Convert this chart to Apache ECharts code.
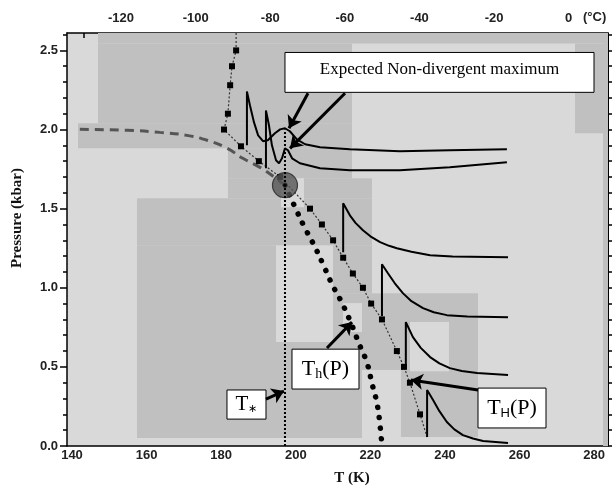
<!DOCTYPE html>
<html>
<head>
<meta charset="utf-8">
<script src="https://cdn.jsdelivr.net/npm/echarts@6/dist/echarts.min.js"></script>
<style>
  html, body { margin: 0; padding: 0; background: #fff; }
  #chart { width: 613px; height: 487px; }
</style>
</head>
<body>
<div id="chart"></div>
<script>
// axis ticks
var T_LABELS = [140, 160, 180, 200, 220, 240, 260, 280]
var C_LABELS = [-120, -100, -80, -60, -40, -20, 0]
var C_TICKS = [-130, -120, -110, -100, -90, -80, -70, -60, -50, -40, -30, -20, -10, 0, 10]
var P_LABELS = [0, 0.5, 1.0, 1.5, 2.0, 2.5]
var P_MINOR = [0, 0.1, 0.2, 0.3, 0.4, 0.5, 0.6, 0.7, 0.8, 0.9, 1.0, 1.1, 1.2, 1.3, 1.4, 1.5, 1.6, 1.7, 1.8, 1.9, 2.0, 2.1, 2.2, 2.3, 2.4, 2.5, 2.6]

// T_H(P): dotted line with square markers
var TH_T = [184.0, 184.0, 182.9, 182.4, 181.8, 180.75, 185.3, 190.1, 195.8, 203.8, 207.0, 210.0, 212.7, 215.3, 218.0, 220.2, 223.1, 227.1, 229.0, 230.6, 233.3, 235.2]
var TH_P = [2.61, 2.50, 2.40, 2.28, 2.10, 2.00, 1.894, 1.80, 1.70, 1.50, 1.40, 1.30, 1.19, 1.09, 1.00, 0.90, 0.80, 0.60, 0.50, 0.40, 0.20, 0.057]

// T_h(P): big dots
var TLOW_T = [197.1, 199.8, 202.2, 204.9, 207.3, 209.7, 212.4, 214.8, 216.9, 219.1, 220.4, 221.8, 222.6, 223.1]
var TLOW_P = [1.648, 1.509, 1.389, 1.269, 1.149, 1.023, 0.903, 0.777, 0.650, 0.524, 0.398, 0.265, 0.126, 0.0]

// grey dashed curve
var DASH_T = [142.1, 154.7, 163.6, 170.8, 176.2, 181.6, 185.8, 190.4, 193.9, 197.1]
var DASH_P = [2.001, 1.995, 1.982, 1.963, 1.932, 1.881, 1.818, 1.761, 1.705, 1.648]

// T* and the critical point
var TSTAR = 197.1
var TSTAR_TOP = 2.0
var CP = [197.1, 1.648]

// response curves
var RA_T = [186.9, 186.9, 187.7, 188.8, 189.9, 191.2, 192.5, 194.4, 195.8, 197.1, 198.4, 200.3, 202.5, 206.5, 214.5, 227.9, 241.3, 256.6]
var RA_P = [1.90, 2.241, 2.153, 2.045, 1.963, 1.926, 1.932, 1.976, 2.001, 2.008, 1.989, 1.938, 1.907, 1.888, 1.875, 1.862, 1.869, 1.875]
var RB_T = [192.0, 192.0, 192.8, 193.6, 194.7, 195.5, 196.3, 197.1, 197.9, 199.0, 201.1, 206.5, 214.5, 227.9, 241.3, 256.6]
var RB_P = [1.755, 2.121, 2.027, 1.900, 1.806, 1.787, 1.818, 1.881, 1.869, 1.818, 1.787, 1.755, 1.742, 1.742, 1.761, 1.793]
var RC_T = [212.7, 212.7, 214.5, 216.0, 218.0, 220.0, 222.6, 225.0, 227.1, 231.0, 236.0, 242.0, 256.9]
var RC_P = [1.225, 1.534, 1.458, 1.41, 1.364, 1.325, 1.288, 1.265, 1.25, 1.228, 1.206, 1.198, 1.193]
var RD_T = [223.1, 223.1, 224.7, 226.5, 228.7, 231.0, 234.1, 237.0, 240.5, 246.0, 256.9]
var RD_P = [0.821, 1.149, 1.092, 1.03, 0.966, 0.915, 0.871, 0.845, 0.827, 0.818, 0.814]
var RE_T = [229.5, 229.5, 231.4, 233.5, 236.0, 238.5, 241.3, 244.5, 248.6, 256.9]
var RE_P = [0.492, 0.783, 0.688, 0.62, 0.562, 0.522, 0.492, 0.474, 0.461, 0.448]
var RF_T = [235.2, 235.2, 236.8, 238.5, 240.5, 242.5, 244.8, 247.5, 250.2, 256.9]
var RF_P = [0.057, 0.354, 0.29, 0.22, 0.152, 0.105, 0.069, 0.047, 0.032, 0.019]

// background patches [T0, T1, P0, P1, dark]
var PATCHES = [
  [146.97, 283.7, 2.544, 2.61, 1],
  [146.97, 215.07, 2.039, 2.544, 1],
  [274.85, 283.7, 1.976, 2.544, 1],
  [141.61, 215.07, 1.881, 2.039, 1],
  [181.82, 215.07, 1.692, 1.881, 1],
  [181.82, 220.43, 1.566, 1.692, 1],
  [157.43, 220.43, 1.269, 1.566, 1],
  [157.43, 194.69, 0.051, 1.269, 1],
  [209.97, 220.43, 0.966, 1.269, 1],
  [209.97, 248.85, 0.657, 0.966, 1],
  [194.69, 248.85, 0.480, 0.657, 1],
  [194.69, 217.75, 0.051, 0.480, 1],
  [228.20, 248.85, 0.057, 0.480, 1],
  [282.36, 283.7, 0, 2.61, 1],
  [196.03, 202.20, 1.509, 1.692, 0],
  [212.65, 217.75, 0.720, 0.903, 0],
  [230.62, 241.07, 0.473, 0.783, 0]
]

var XMIN = 138.66
var XMAX = 283.7

function pairs (xs, ys) {
  return xs.map(function (x, i) { return [x, ys[i]] })
}

function respSeries (xs, ys) {
  return {
    type: 'line',
    data: pairs(xs, ys),
    showSymbol: false,
    lineStyle: { color: '#000', width: 2 },
    silent: true,
    z: 6
  }
}

var chart = echarts.init(document.getElementById('chart'))

var tickFont = { fontFamily: 'Liberation Sans', fontWeight: 'bold', fontSize: 13, color: '#222' }
var serif = 'Liberation Serif'

var thData = pairs(TH_T, TH_P).map(function (p, i) {
  if (i === 0 || i === TH_T.length - 1) return { value: p, symbol: 'none' }
  return p
})

var option = {
  animation: false,
  grid: { left: 67, right: 5, top: 33, bottom: 41, show: true, backgroundColor: '#d9d9d9', borderWidth: 0 },
  xAxis: [{
    type: 'value', min: XMIN, max: XMAX, position: 'bottom',
    axisLine: { show: true, onZero: false, lineStyle: { color: '#000', width: 1.5 } },
    axisTick: { show: false },
    axisLabel: Object.assign({ customValues: T_LABELS, margin: 3 }, tickFont),
    splitLine: { show: false }
  }, {
    type: 'value', min: XMIN - 273.15, max: XMAX - 273.15, position: 'top',
    axisLine: { show: true, onZero: false, lineStyle: { color: '#000', width: 1.5 } },
    axisTick: { show: true, inside: true, length: 5, customValues: C_TICKS, lineStyle: { color: '#000', width: 1.5 } },
    axisLabel: Object.assign({ customValues: C_LABELS, margin: 8 }, tickFont),
    splitLine: { show: false }
  }],
  yAxis: [{
    type: 'value', min: 0, max: 2.61, position: 'left',
    axisLine: { show: true, onZero: false, lineStyle: { color: '#000', width: 1.5 } },
    axisTick: { show: true, length: 7, customValues: P_LABELS, lineStyle: { color: '#000', width: 1.5 } },
    axisLabel: Object.assign({ customValues: P_LABELS, margin: 9, formatter: function (v) { return v.toFixed(1) } }, tickFont),
    splitLine: { show: false }
  }, {
    type: 'value', min: 0, max: 2.61, position: 'left', offset: 0,
    axisLine: { show: false, onZero: false },
    axisTick: { show: true, length: 4, customValues: P_MINOR, lineStyle: { color: '#000', width: 1.5 } },
    axisLabel: { show: false },
    splitLine: { show: false }
  }, {
    type: 'value', min: 0, max: 2.61, position: 'right',
    axisLine: { show: true, onZero: false, lineStyle: { color: '#000', width: 1 } },
    axisTick: { show: true, length: 4, customValues: P_MINOR, lineStyle: { color: '#000', width: 1.5 } },
    axisLabel: { show: false },
    splitLine: { show: false }
  }],
  graphic: [
    { type: 'text', left: 583, top: 11, style: { text: '(°C)', font: 'bold 13px "Liberation Sans"', fill: '#222' } },
    { type: 'text', x: 352, y: 478, style: { text: 'T (K)', font: 'bold 15px "Liberation Serif"', fill: '#111', align: 'center', verticalAlign: 'middle' } },
    { type: 'text', x: 17, y: 218, rotation: Math.PI / 2, style: { text: 'Pressure (kbar)', font: 'bold 15px "Liberation Serif"', fill: '#111', align: 'center', verticalAlign: 'middle' } }
  ],
  series: [{
    type: 'custom',
    data: PATCHES,
    silent: true,
    clip: true,
    z: 1,
    renderItem: function (params, api) {
      var a = api.coord([api.value(0), api.value(3)])
      var b = api.coord([api.value(1), api.value(2)])
      return {
        type: 'rect',
        shape: { x: a[0], y: a[1], width: b[0] - a[0], height: b[1] - a[1] },
        style: { fill: api.value(4) ? '#c0c0c0' : '#d9d9d9' }
      }
    }
  }, {
    // grey dashed
    type: 'line',
    data: pairs(DASH_T, DASH_P),
    smooth: true,
    showSymbol: false,
    silent: true,
    z: 3,
    lineStyle: { color: '#555', width: 3, type: [9, 6] }
  }, {
    // T_H(P)
    type: 'line',
    data: thData,
    showSymbol: true,
    showAllSymbol: true,
    symbol: 'rect',
    symbolSize: 6,
    itemStyle: { color: '#000' },
    silent: true,
    z: 4,
    lineStyle: { color: '#333', width: 1.2, type: [2, 2] }
  }, {
    // T_h(P) dots
    type: 'line',
    data: pairs(TLOW_T, TLOW_P),
    smooth: true,
    showSymbol: false,
    silent: true,
    z: 4,
    lineStyle: { color: '#000', width: 5.5, type: [0.1, 10.4], cap: 'round' }
  }, {
    // critical point
    type: 'scatter',
    data: [CP],
    symbolSize: 25,
    silent: true,
    z: 5,
    itemStyle: { color: '#555', borderColor: '#222', borderWidth: 1.2 }
  }, {
    type: 'scatter',
    data: [CP],
    symbolSize: 4,
    silent: true,
    z: 7,
    itemStyle: { color: '#000' }
  }, {
    // T* vertical, also holds the annotations
    type: 'line',
    data: [[TSTAR, 0], [TSTAR, TSTAR_TOP]],
    showSymbol: false,
    silent: true,
    z: 6,
    lineStyle: { color: '#000', width: 2, type: [2, 2] },
    markLine: {
      silent: true,
      z: 10,
      symbol: ['none', 'arrow'],
      symbolSize: 12,
      label: { show: false },
      lineStyle: { color: '#000', width: 3, type: 'solid' },
      data: [
        [{ coord: [203.27, 2.229] }, { coord: [198.18, 2.008] }],
        [{ coord: [213.19, 2.229] }, { coord: [198.45, 1.881] }],
        [{ coord: [208.36, 0.619] }, { coord: [215.07, 0.783] }],
        [{ coord: [192.0, 0.297] }, { coord: [196.84, 0.347] }],
        [{ coord: [248.85, 0.354] }, { coord: [230.88, 0.417] }]
      ]
    },
    markArea: {
      silent: true,
      z: 9,
      itemStyle: { color: '#fff', borderColor: '#000', borderWidth: 1, opacity: 1 },
      label: { show: true, position: 'inside', color: '#000', fontFamily: serif },
      data: [
        [{
          coord: [197.10, 2.487],
          label: { formatter: 'Expected Non-divergent maximum', fontSize: 17, offset: [0, -3] }
        }, { coord: [279.95, 2.235] }],
        [{
          coord: [198.98, 0.612],
          label: {
            formatter: '{a|T}{b|h}{a|(P)}',
            rich: { a: { fontSize: 22, fontFamily: serif, color: '#000' }, b: { fontSize: 14, fontFamily: serif, color: '#000', padding: [10, 0, 0, 0] } }
          }
        }, { coord: [216.94, 0.360] }],
        [{
          coord: [181.55, 0.354],
          label: {
            formatter: '{a|T}{b|∗}',
            rich: { a: { fontSize: 21, fontFamily: serif, color: '#000' }, b: { fontSize: 11, fontFamily: serif, color: '#000', padding: [10, 0, 0, 0] } }
          }
        }, { coord: [192.01, 0.170] }],
        [{
          coord: [248.85, 0.366],
          label: {
            formatter: '{a|T}{b|H}{a|(P)}',
            rich: { a: { fontSize: 22, fontFamily: serif, color: '#000' }, b: { fontSize: 13, fontFamily: 'Liberation Sans', color: '#000', padding: [10, 0, 0, 0] } }
          }
        }, { coord: [267.08, 0.114] }]
      ]
    }
  },
    respSeries(RA_T, RA_P),
    respSeries(RB_T, RB_P),
    respSeries(RC_T, RC_P),
    respSeries(RD_T, RD_P),
    respSeries(RE_T, RE_P),
    respSeries(RF_T, RF_P)
  ]
}

chart.setOption(option)
</script>
</body>
</html>
